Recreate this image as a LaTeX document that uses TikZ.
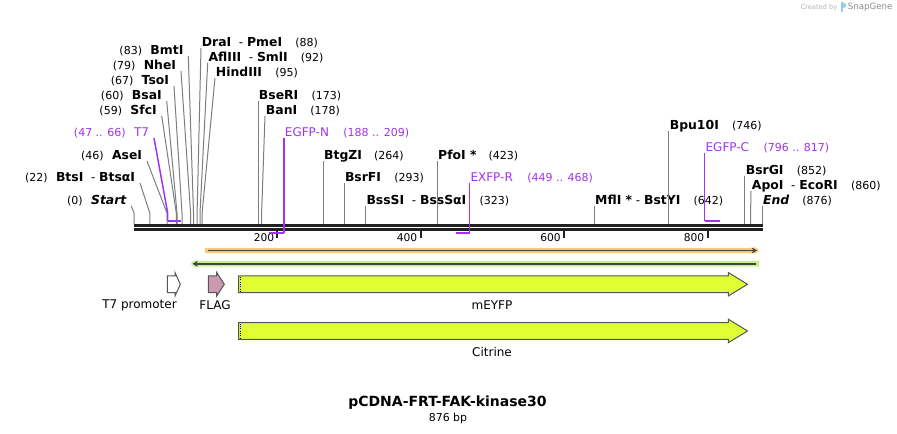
\documentclass[tikz,border=0pt]{standalone}
\usepackage{fontspec}
\setmainfont{DejaVu Sans}
\usepackage{tikz}
\usetikzlibrary{arrows.meta}
\definecolor{cutgray}{RGB}{125,125,125}
\definecolor{primer}{RGB}{160,50,240}
\definecolor{orfor}{RGB}{250,200,120}
\definecolor{orfgr}{RGB}{196,240,140}
\definecolor{orfdark}{RGB}{68,68,68}
\definecolor{yfp}{RGB}{224,255,51}
\definecolor{flagpink}{RGB}{204,153,178}
\definecolor{featline}{RGB}{85,85,85}
\definecolor{snapblue}{RGB}{150,205,240}
\newcommand{\enz}[1]{{\fontsize{9.3}{11}\selectfont\bfseries #1}}
\newcommand{\pos}[1]{{\fontsize{8.25}{10}\selectfont #1}}

\begin{document}
\begin{tikzpicture}[x=0.75pt,y=-0.75pt,
  lab/.style={font=\fontsize{9}{11}\selectfont,inner ysep=0pt,text depth=1.2pt},
  labl/.style={lab,anchor=south east,inner xsep=3.5pt},
  labr/.style={lab,anchor=south west,inner xsep=0.5pt},
  cut/.style={cutgray,line width=0.75pt},
  oligo/.style={primer,line width=1.1pt},
  oligobar/.style={primer,line width=2.2pt},
  backbone/.style={black!87,line width=2.1pt},
  tick/.style={black!87,line width=1.5pt},
  ticklab/.style={font=\fontsize{8}{10}\selectfont,anchor=east,inner sep=0pt},
  feat/.style={draw=featline,line width=0.75pt},
  featlab/.style={font=\fontsize{9}{11}\selectfont}]
\useasboundingbox (0,0) rectangle (897,434);

% cut positions on the backbone
\coordinate (cStart) at (134,224.5);
\coordinate (cBtsI) at (149.8,224.5);
\coordinate (cAseI) at (167,224.5);
\coordinate (cSfcI) at (176.3,224.5);
\coordinate (cBsaI) at (177,224.5);
\coordinate (cTsoI) at (182,224.5);
\coordinate (cNheI) at (190.6,224.5);
\coordinate (cBmtI) at (193.5,224.5);
\coordinate (cDraI) at (197.1,224.5);
\coordinate (cAflIII) at (200,224.5);
\coordinate (cHindIII) at (202.1,224.5);
\coordinate (cBseRI) at (258,224.5);
\coordinate (cBanI) at (261.6,224.5);
\coordinate (cBtgZI) at (323.3,224.5);
\coordinate (cBsrFI) at (344.1,224.5);
\coordinate (cBssSI) at (365.6,224.5);
\coordinate (cPfoI) at (437.3,224.5);
\coordinate (cMflI) at (594.3,224.5);
\coordinate (cBpu10I) at (668.9,224.5);
\coordinate (cBsrGI) at (744.9,224.5);
\coordinate (cApoI) at (750.6,224.5);
\coordinate (cEnd) at (762.1,224.5);

% primer ends
\coordinate (pT7a) at (167.7,221);
\coordinate (pT7b) at (181.3,221);
\coordinate (pEGFPNa) at (268.8,233);
\coordinate (pEGFPNb) at (284,233);
\coordinate (pEXFPRa) at (455.9,233);
\coordinate (pEXFPRb) at (469.6,233);
\coordinate (pEGFPCa) at (704.7,221);
\coordinate (pEGFPCb) at (719.8,221);

% labels left of their sites
\node[labl] (Start) at (131.3,206) {\pos{(0)}\hspace{0.7em}\enz{\itshape Start}};
\node[labl] (BtsI) at (140,183) {\pos{(22)}\hspace{0.7em}\enz{BtsI}\ \ -\ \enz{BtsαI}};
\node[labl] (AseI) at (147,161) {\pos{(46)}\hspace{0.7em}\enz{AseI}};
\node[labl,text=primer] (T7) at (154,138) {\pos{(47 .. 66)}\hspace{0.7em}T7};
\node[labl] (SfcI) at (161.7,116) {\pos{(59)}\hspace{0.7em}\enz{SfcI}};
\node[labl] (BsaI) at (166.7,101) {\pos{(60)}\hspace{0.7em}\enz{BsaI}};
\node[labl] (TsoI) at (174,86) {\pos{(67)}\hspace{0.7em}\enz{TsoI}};
\node[labl] (NheI) at (181,71) {\pos{(79)}\hspace{0.7em}\enz{NheI}};
\node[labl] (BmtI) at (188.3,56) {\pos{(83)}\hspace{0.7em}\enz{BmtI}};

% labels right of their sites
\node[labr] (DraI) at (201,48) {\enz{DraI}\ \ -\ \enz{PmeI}\hspace{1.1em}\pos{(88)}};
\node[labr] (AflIII) at (207.7,63) {\enz{AflIII}\ \ -\ \enz{SmlI}\hspace{1.1em}\pos{(92)}};
\node[labr] (HindIII) at (215,78) {\enz{HindIII}\hspace{1.1em}\pos{(95)}};
\node[labr] (BseRI) at (258,101) {\enz{BseRI}\hspace{1.1em}\pos{(173)}};
\node[labr] (BanI) at (265,116) {\enz{BanI}\hspace{1.1em}\pos{(178)}};
\node[labr,text=primer] (EGFPN) at (284,138) {EGFP-N\hspace{1.2em}\pos{(188 .. 209)}};
\node[labr] (BtgZI) at (323.3,161) {\enz{BtgZI}\hspace{1em}\pos{(264)}};
\node[labr] (BsrFI) at (344.1,183) {\enz{BsrFI}\hspace{1.1em}\pos{(293)}};
\node[labr] (BssSI) at (365.6,206) {\enz{BssSI}\ \ -\ \enz{BssSαI}\hspace{1.1em}\pos{(323)}};
\node[labr] (PfoI) at (437.3,161) {\enz{PfoI *}\hspace{1em}\pos{(423)}};
\node[labr,text=primer] (EXFPR) at (469.6,183) {EXFP-R\hspace{1.2em}\pos{(449 .. 468)}};
\node[labr] (MflI) at (594.3,206) {\enz{MflI *}\ -\ \enz{BstYI}\hspace{1.1em}\pos{(642)}};
\node[labr] (Bpu10I) at (668.9,131) {\enz{Bpu10I}\hspace{1.1em}\pos{(746)}};
\node[labr,text=primer] (EGFPC) at (704.7,153) {EGFP-C\hspace{1.2em}\pos{(796 .. 817)}};
\node[labr] (BsrGI) at (744.9,176) {\enz{BsrGI}\hspace{1.1em}\pos{(852)}};
\node[labr] (ApoI) at (751,191) {\enz{ApoI}\ \ -\ \enz{EcoRI}\hspace{1.1em}\pos{(860)}};
\node[labr] (End) at (762.1,206) {\enz{\itshape End}\hspace{1.1em}\pos{(876)}};

% cut site lines
\draw[cut] (Start.south east) -- ([yshift=8.6pt]cStart) -- (cStart);
\draw[cut] (BtsI.south east) -- ([yshift=8.6pt]cBtsI) -- (cBtsI);
\draw[cut] (AseI.south east) -- ([yshift=8.6pt]cAseI) -- (cAseI);
\draw[cut] (SfcI.south east) -- ([yshift=8.6pt]cSfcI) -- (cSfcI);
\draw[cut] (BsaI.south east) -- ([yshift=8.6pt]cBsaI) -- (cBsaI);
\draw[cut] (TsoI.south east) -- ([yshift=8.6pt]cTsoI) -- (cTsoI);
\draw[cut] (NheI.south east) -- ([yshift=8.6pt]cNheI) -- (cNheI);
\draw[cut] (BmtI.south east) -- ([yshift=8.6pt]cBmtI) -- (cBmtI);
\draw[cut] (DraI.south west) -- ([yshift=8.6pt]cDraI) -- (cDraI);
\draw[cut] (AflIII.south west) -- ([yshift=8.6pt]cAflIII) -- (cAflIII);
\draw[cut] (HindIII.south west) -- ([yshift=8.6pt]cHindIII) -- (cHindIII);
\draw[cut] (BseRI.south west) -- (cBseRI);
\draw[cut] (BanI.south west) -- ([yshift=8.6pt]cBanI) -- (cBanI);
\draw[cut] (BtgZI.south west) -- (cBtgZI);
\draw[cut] (BsrFI.south west) -- (cBsrFI);
\draw[cut] (BssSI.south west) -- (cBssSI);
\draw[cut] (PfoI.south west) -- (cPfoI);
\draw[cut] (MflI.south west) -- (cMflI);
\draw[cut] (Bpu10I.south west) -- (cBpu10I);
\draw[cut] (BsrGI.south west) -- (cBsrGI);
\draw[cut] (ApoI.south west) -- ([yshift=8.6pt]cApoI) -- (cApoI);
\draw[cut] (End.south west) -- (cEnd);

% backbone and scale
\draw[backbone] (134,225.6) -- (762.5,225.6);
\draw[backbone] (134,229.7) -- (762.5,229.7);
\draw[tick] (277.4,230.3) -- (277.4,237.6);
\draw[tick] (420.8,230.3) -- (420.8,237.6);
\draw[tick] (564.2,230.3) -- (564.2,237.6);
\draw[tick] (707.6,230.3) -- (707.6,237.6);
\node[ticklab] (t200) at (274.5,237.2) {200};
\node[ticklab] (t400) at (417.5,237.2) {400};
\node[ticklab] (t600) at (561,237.2) {600};
\node[ticklab] (t800) at (704.5,237.2) {800};

% primers
\draw[oligo] (T7.south east) -- ([yshift=6pt]pT7a) -- (pT7a);
\draw[oligobar] (pT7a) -- (pT7b);
\draw[oligo] (EGFPN.south west) -- (pEGFPNb);
\draw[oligobar] (pEGFPNa) -- (pEGFPNb);
\draw[oligo] (EXFPR.south west) -- (pEXFPRb);
\draw[oligobar] (pEXFPRa) -- (pEXFPRb);
\draw[oligo] (EGFPC.south west) -- (pEGFPCa);
\draw[oligobar] (pEGFPCa) -- (pEGFPCb);

% open reading frames
\fill[orfor] (205,247.8) -- (754,247.8) -- (754,246.3) -- (759,250.5) -- (754,254.7) -- (754,253.2) -- (205,253.2) -- cycle;
\draw[orfdark,line width=1.2pt,-{Stealth[length=4pt,width=4.5pt]}] (208,250.5) -- (757,250.5);
\fill[orfgr] (759,261) -- (196,261) -- (196,259.3) -- (190.5,263.8) -- (196,268.3) -- (196,266.6) -- (759,266.6) -- cycle;
\draw[orfdark,line width=1.2pt,-{Stealth[length=4pt,width=4.5pt]}] (756,263.8) -- (192.5,263.8);

% features
\filldraw[feat,fill=white] (167.3,276) -- (175,276) -- (175,272.5) -- (180.3,284.3) -- (175,296) -- (175,292.7) -- (167.3,292.7) -- cycle;
\filldraw[feat,fill=flagpink] (208.3,276) -- (216.7,276) -- (216.7,272.5) -- (224.3,284.3) -- (216.7,296) -- (216.7,292.7) -- (208.3,292.7) -- cycle;
\filldraw[feat,fill=yfp] (238.5,276) -- (728.3,276) -- (728.3,272.5) -- (747.5,284.3) -- (728.3,296) -- (728.3,292.7) -- (238.5,292.7) -- cycle;
\filldraw[feat,fill=yfp] (238.5,322.7) -- (728.3,322.7) -- (728.3,319.2) -- (747.5,331) -- (728.3,342.7) -- (728.3,339.4) -- (238.5,339.4) -- cycle;
\draw[densely dotted,line width=0.75pt] (240.3,277) -- (240.3,292);
\draw[densely dotted,line width=0.75pt] (240.3,323.7) -- (240.3,338.7);
\node[featlab] (T7prom) at (139.5,305.5) {T7 promoter};
\node[featlab] (FLAG) at (215,305.5) {FLAG};
\node[featlab] (mEYFP) at (492,305.5) {mEYFP};
\node[featlab] (Citrine) at (492,352) {Citrine};

% title
\node[font=\fontsize{10.5}{12}\selectfont\bfseries] (title) at (447.5,403) {pCDNA-FRT-FAK-kinase30};
\node[font=\fontsize{8.2}{10}\selectfont] (size) at (448,418) {876 bp};

% credit
\node[font=\fontsize{5}{6}\selectfont,text=black!30,anchor=east,inner sep=0pt] (credit) at (837.5,7.5) {Created by};
\fill[snapblue] (840.8,2.5) rectangle (842.6,12.5);
\fill[snapblue] (842.6,2.5) -- (845.8,3.8) -- (845.8,7) -- (842.6,8.3) -- cycle;
\node[font=\fontsize{6.5}{8}\selectfont,text=black!45,anchor=west,inner sep=0pt] (snap) at (847.5,7.5) {SnapGene};
\end{tikzpicture}
\end{document}
